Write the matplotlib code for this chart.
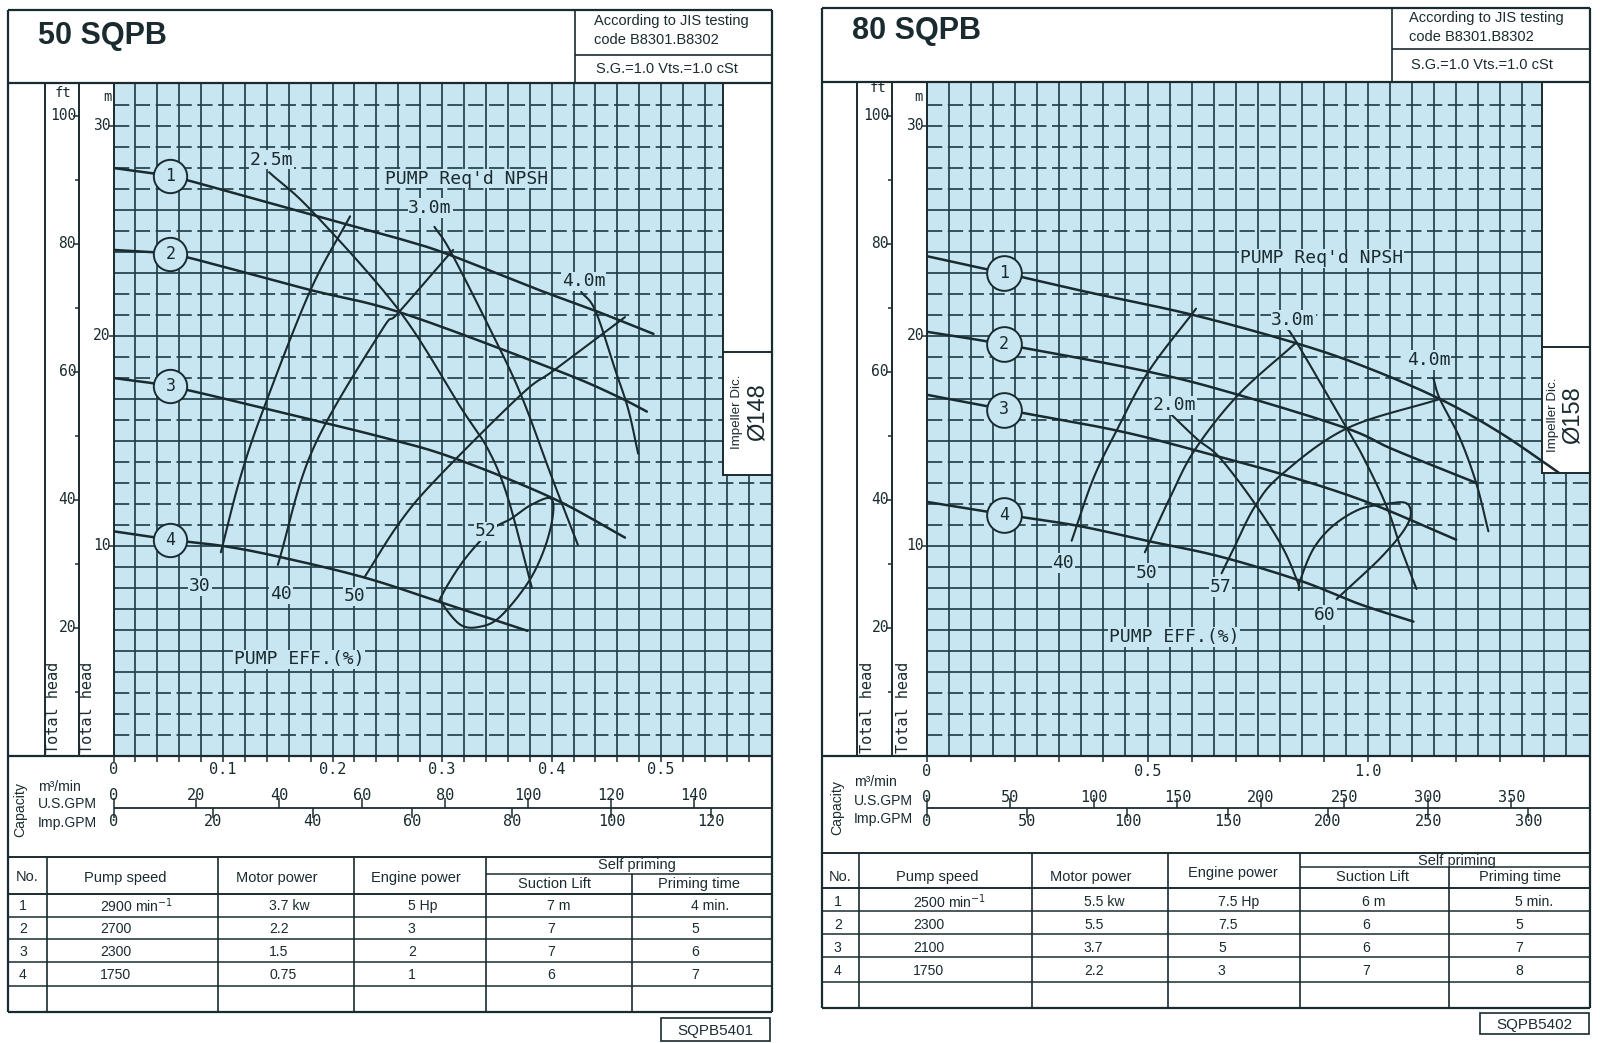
import numpy as np
import matplotlib
matplotlib.use("Agg")
import matplotlib.pyplot as plt
from matplotlib import font_manager
from matplotlib.patches import Rectangle

# ------------------------------------------------------------------ DATA
# ---- 50 SQPB (left sheet): Q in m3/min, H in m
L1_Q = [0.0, 0.052, 0.10, 0.20, 0.263, 0.305, 0.388, 0.44, 0.493]
L1_H = [28.0, 27.6, 26.95, 25.5, 24.6, 23.9, 22.2, 21.2, 20.1]
L2_Q = [0.0, 0.052, 0.10, 0.179, 0.263, 0.403, 0.457, 0.487]
L2_H = [24.1, 23.9, 23.3, 22.2, 21.1, 18.4, 17.2, 16.4]
L3_Q = [0.0, 0.052, 0.134, 0.244, 0.31, 0.40, 0.467]
L3_H = [18.0, 17.6, 16.6, 15.2, 14.2, 12.3, 10.4]
L4_Q = [0.0, 0.052, 0.10, 0.15, 0.229, 0.30, 0.378]
L4_H = [10.7, 10.3, 10.0, 9.5, 8.5, 7.3, 5.96]

L_E30_Q = [0.098, 0.116, 0.1375, 0.18, 0.216]
L_E30_H = [9.7, 13.3, 16.6, 22.2, 25.7]
L_E40_Q = [0.15, 0.182, 0.244, 0.26, 0.31]
L_E40_H = [9.1, 14.6, 20.2, 21.1, 24.1]
L_E50_Q = [0.229, 0.261, 0.295, 0.372, 0.403, 0.467]
L_E50_H = [8.5, 11.1, 13.2, 17.2, 18.4, 20.9]
L_E52_Q = [0.300, 0.32, 0.345, 0.363, 0.381, 0.399, 0.401, 0.393, 0.378, 0.353, 0.335, 0.317, 0.300]
L_E52_H = [7.67, 9.33, 10.76, 11.3, 11.95, 12.27, 11.4, 9.81, 8.22, 6.63, 6.16, 6.24, 7.27]

L_N25_Q = [0.142, 0.182, 0.261, 0.317, 0.342, 0.36, 0.382]
L_N25_H = [27.8, 25.9, 21.2, 16.6, 14.6, 12.3, 8.0]
L_N30_Q = [0.293, 0.308, 0.345, 0.372, 0.40, 0.424]
L_N30_H = [25.2, 24.0, 20.2, 17.2, 13.3, 10.05]
L_N40_Q = [0.427, 0.44, 0.458, 0.47, 0.479]
L_N40_H = [22.1, 21.2, 18.4, 16.5, 14.4]

L_XTICKS = [0, 0.1, 0.2, 0.3, 0.4, 0.5]
L_XTICKLABELS = ["0", "0.1", "0.2", "0.3", "0.4", "0.5"]
L_USGPM = [0, 20, 40, 60, 80, 100, 120, 140]
L_IMPGPM = [0, 20, 40, 60, 80, 100, 120]

L_SPEED = ["2900", "2700", "2300", "1750"]
L_MOTOR = ["3.7", "2.2", "1.5", "0.75"]
L_ENGINE = ["5", "3", "2", "1"]
L_SUCTION = ["7", "7", "7", "6"]
L_PRIMING = ["4", "5", "6", "7"]

# ---- 80 SQPB (right sheet)
R1_Q = [0.0, 0.175, 0.362, 0.604, 0.846, 0.997, 1.163, 1.299, 1.432]
R1_H = [23.8, 23.0, 22.1, 21.0, 19.6, 18.5, 17.0, 15.4, 13.5]
R2_Q = [0.0, 0.175, 0.502, 0.706, 0.952, 1.057, 1.246]
R2_H = [20.2, 19.6, 18.3, 17.2, 15.6, 14.6, 13.0]
R3_Q = [0.0, 0.175, 0.43, 0.619, 0.808, 0.997, 1.2]
R3_H = [17.2, 16.5, 15.5, 14.5, 13.4, 12.1, 10.3]
R4_Q = [0.0, 0.175, 0.34, 0.498, 0.664, 0.846, 0.98, 1.103]
R4_H = [12.1, 11.5, 10.97, 10.25, 9.5, 8.35, 7.24, 6.4]

R_E40_Q = [0.328, 0.377, 0.43, 0.502, 0.61]
R_E40_H = [10.25, 13.2, 15.5, 18.3, 21.3]
R_E50_Q = [0.494, 0.551, 0.608, 0.706, 0.838]
R_E50_H = [9.7, 12.3, 14.6, 17.2, 19.7]
R_E57_Q = [0.668, 0.695, 0.744, 0.804, 0.952, 1.163]
R_E57_H = [8.7, 9.86, 11.9, 13.4, 15.6, 17.0]
R_E60_Q = [0.843, 0.846, 0.876, 0.921, 0.982, 1.042, 1.08, 1.095, 1.095, 1.073, 1.027, 0.974, 0.929]
R_E60_H = [7.9, 8.35, 9.86, 10.97, 11.76, 12.0, 12.08, 11.84, 11.29, 10.5, 9.4, 8.35, 7.48]

R_N20_Q = [0.547, 0.612, 0.664, 0.744, 0.808, 0.846]
R_N20_H = [16.4, 15.1, 14.2, 12.0, 9.86, 8.0]
R_N30_Q = [0.814, 0.838, 0.952, 0.99, 1.042, 1.073, 1.11]
R_N30_H = [20.4, 19.7, 15.6, 14.2, 11.9, 10.0, 7.95]
R_N40_Q = [1.148, 1.163, 1.209, 1.246, 1.273]
R_N40_H = [18.0, 17.0, 15.1, 12.95, 10.7]

R_XTICKS = [0, 0.5, 1.0]
R_XTICKLABELS = ["0", "0.5", "1.0"]
R_USGPM = [0, 50, 100, 150, 200, 250, 300, 350]
R_IMPGPM = [0, 50, 100, 150, 200, 250, 300]

R_SPEED = ["2500", "2300", "2100", "1750"]
R_MOTOR = ["5.5", "5.5", "3.7", "2.2"]
R_ENGINE = ["7.5", "7.5", "5", "3"]
R_SUCTION = ["6", "6", "6", "7"]
R_PRIMING = ["5", "5", "7", "8"]

FT_TICKS = [10, 20, 30, 40, 50, 60, 70, 80, 90, 100]
M_TICKS = [10, 20, 30]
US_GAL_M3 = 0.003785411784
IMP_GAL_M3 = 0.00454609

# ------------------------------------------------------------------ STYLE
plt.rcParams['lines.scale_dashes'] = False
plt.rcParams['mathtext.fontset'] = 'dejavusans'


def has_font(name):
    try:
        font_manager.findfont(font_manager.FontProperties(family=name),
                              fallback_to_default=False)
        return True
    except Exception:
        return False


if has_font('Liberation Sans Narrow'):
    NARROW, NS = 'Liberation Sans Narrow', 1.0
else:
    NARROW, NS = 'Liberation Sans', 0.84
SANS = 'Liberation Sans'
MONO = 'DejaVu Sans Mono'

BG = '#c8e6f2'
GRID = '#21414a'
INK = '#1a2b30'
DASHED_H = {31, 30, 29, 28, 27, 25, 22, 21, 19, 18, 16, 14, 13, 12, 11, 3, 2, 1}
PXM = 21.0     # pixels per metre of head


def crspline(xs, ys, n=24, closed=False):
    P = np.column_stack([xs, ys]).astype(float)
    if closed:
        P = np.vstack([P, P[:1]])
        ext = np.vstack([P[-2:-1], P, P[1:2]])
    else:
        ext = np.vstack([2 * P[0] - P[1], P, 2 * P[-1] - P[-2]])
    t = np.linspace(0, 1, n, endpoint=False)[:, None]
    segs = []
    for i in range(1, len(ext) - 2):
        p0, p1, p2, p3 = ext[i - 1], ext[i], ext[i + 1], ext[i + 2]
        segs.append(0.5 * (2 * p1 + (p2 - p0) * t + (2 * p0 - 5 * p1 + 4 * p2 - p3) * t ** 2
                           + (3 * p1 - p0 - 3 * p2 + p3) * t ** 3))
    segs.append(P[-1:])
    S = np.vstack(segs)
    return S[:, 0], S[:, 1]


fig = plt.figure(figsize=(16, 10.43), dpi=100)
W, HH = 1600, 1043
ov = fig.add_axes([0, 0, 1, 1], zorder=3)
ov.set_xlim(0, W)
ov.set_ylim(HH, 0)
ov.axis('off')


def seg(x0, y0, x1, y1, lw=1.4):
    ov.plot([x0, x1], [y0, y1], color=INK, lw=lw, solid_capstyle='butt')


def otext(x, y, s, size, family=NARROW, ha='left', va='center', **kw):
    ov.text(x, y, s, fontsize=size, family=family, ha=ha, va=va, color=INK, **kw)


PANELS = [
    dict(title='50 SQPB', code='SQPB5401', dia='\u00d8148',
         fx0=8, fy0=10, fx1=772, fy1=1012, hy=83, subx=575, suby=55,
         title_xy=(38, 36), jis_xy=(594, 21, 40, 69),
         sepx=45, ftx=79, gx0=113.5, gy1=756, xppu=1095.3, xstep=0.02, ngrid=29,
         box_x=723, box_y=475, box_div=352, imp_x=(737, 758), imp_y=412,
         ft_xy=(63, 93), m_xy=(107, 97), th_x=(53, 88),
         xtl_y=770, gpm_y=808, us_y=796, imp_yl=822, tick_every=1,
         cap=(20, 810), cap_lbl=(38, 787, 804, 823),
         curves=[(L1_Q, L1_H), (L2_Q, L2_H), (L3_Q, L3_H), (L4_Q, L4_H)], circ_q=0.052, circ_ms=24,
         eff=[(L_E30_Q, L_E30_H, False), (L_E40_Q, L_E40_H, False), (L_E50_Q, L_E50_H, False),
              (L_E52_Q, L_E52_H, True)],
         npsh=[(L_N25_Q, L_N25_H), (L_N30_Q, L_N30_H), (L_N40_Q, L_N40_H)],
         labels=[("2.5m", 0.144, 28.4, 'center'), ("PUMP Req'd NPSH", 0.248, 27.5, 'left'),
                 ("3.0m", 0.289, 26.1, 'center'), ("4.0m", 0.429, 22.6, 'center'),
                 ("PUMP EFF.(%)", 0.110, 4.6, 'left'), ("30", 0.079, 8.1, 'center'),
                 ("40", 0.153, 7.7, 'center'), ("50", 0.22, 7.6, 'center'),
                 ("52", 0.34, 10.7, 'center')],
         xticks=L_XTICKS, xticklabels=L_XTICKLABELS, usgpm=L_USGPM, impgpm=L_IMPGPM,
         tbl=dict(top=857, spdiv=874, hbot=894, rows=[917, 939, 962, 986], bot=1012,
                  cols=[47, 218, 354, 486], spcol=632,
                  hdr=[("No.", 16, 877, 'left'), ("Pump speed", 125, 878, 'center'),
                       ("Motor power", 277, 878, 'center'), ("Engine power", 416, 878, 'center'),
                       ("Self priming", 637, 865, 'center'), ("Suction Lift", 554, 884, 'center'),
                       ("Priming time", 699, 884, 'center')],
                  rowy=[906, 929, 952, 975], colx=[19, 100, 269, 408, 547, 691]),
         vals=[L_SPEED, L_MOTOR, L_ENGINE, L_SUCTION, L_PRIMING],
         units=[" min$^{-1}$", " kw", " Hp", " m", " min."],
         codebox=(661, 1018, 770, 1041)),
    dict(title='80 SQPB', code='SQPB5402', dia='\u00d8158',
         fx0=822, fy0=8, fx1=1590, fy1=1008, hy=82, subx=1392, suby=49,
         title_xy=(852, 31), jis_xy=(1409, 18, 37, 65),
         sepx=857, ftx=892, gx0=927, gy1=756, xppu=441.0, xstep=0.05, ngrid=29,
         box_x=1542, box_y=473, box_div=347, imp_x=(1553, 1573), imp_y=415,
         ft_xy=(878, 88), m_xy=(918, 97), th_x=(867, 903),
         xtl_y=772, gpm_y=808, us_y=797, imp_yl=821, tick_every=2,
         cap=(837, 808), cap_lbl=(854, 782, 801, 819),
         curves=[(R1_Q, R1_H), (R2_Q, R2_H), (R3_Q, R3_H), (R4_Q, R4_H)], circ_q=0.175, circ_ms=25,
         eff=[(R_E40_Q, R_E40_H, False), (R_E50_Q, R_E50_H, False), (R_E57_Q, R_E57_H, False),
              (R_E60_Q, R_E60_H, False)],
         npsh=[(R_N20_Q, R_N20_H), (R_N30_Q, R_N30_H), (R_N40_Q, R_N40_H)],
         labels=[("2.0m", 0.562, 16.7, 'center'), ("PUMP Req'd NPSH", 0.71, 23.7, 'left'),
                 ("3.0m", 0.83, 20.76, 'center'), ("4.0m", 1.138, 18.86, 'center'),
                 ("PUMP EFF.(%)", 0.413, 5.67, 'left'), ("40", 0.309, 9.19, 'center'),
                 ("50", 0.497, 8.71, 'center'), ("57", 0.665, 8.05, 'center'),
                 ("60", 0.903, 6.71, 'center')],
         xticks=R_XTICKS, xticklabels=R_XTICKLABELS, usgpm=R_USGPM, impgpm=R_IMPGPM,
         tbl=dict(top=853, spdiv=867, hbot=888, rows=[911, 934, 957, 982], bot=1008,
                  cols=[859, 1032, 1168, 1300], spcol=1449,
                  hdr=[("No.", 829, 877, 'left'), ("Pump speed", 937, 877, 'center'),
                       ("Motor power", 1091, 877, 'center'), ("Engine power", 1233, 873, 'center'),
                       ("Self priming", 1457, 861, 'center'), ("Suction Lift", 1373, 877, 'center'),
                       ("Priming time", 1520, 877, 'center')],
                  rowy=[902, 925, 948, 971], colx=[834, 913, 1084, 1218, 1362, 1515]),
         vals=[R_SPEED, R_MOTOR, R_ENGINE, R_SUCTION, R_PRIMING],
         units=[" min$^{-1}$", " kw", " Hp", " m", " min."],
         codebox=(1480, 1013, 1589, 1034)),
]


def draw_panel(p):
    gx0, gx1, gy0, gy1 = p['gx0'], p['fx1'], p['hy'], p['gy1']
    xppu = p['xppu']
    ax = fig.add_axes([gx0 / W, 1 - gy1 / HH, (gx1 - gx0) / W, (gy1 - gy0) / HH], zorder=1)
    ax.set_xlim(0, (gx1 - gx0) / xppu)
    ax.set_ylim(0, (gy1 - gy0) / PXM)
    ax.set_facecolor(BG)
    for s in ax.spines.values():
        s.set_visible(False)
    ax.set_xticks([])
    ax.set_yticks([])

    def qx(q):
        return gx0 + xppu * q

    def hy(h):
        return gy1 - PXM * h

    # grid
    for i in range(1, p['ngrid'] + 1):
        ax.axvline(i * p['xstep'], color=GRID, lw=1.25, zorder=1)
    for h in range(1, 32):
        if h in DASHED_H:
            ax.axhline(h, color=GRID, lw=1.25, ls=(0, (11, 4)), zorder=1)
        else:
            ax.axhline(h, color=GRID, lw=1.25, zorder=1)

    # impeller box
    bq = (p['box_x'] - gx0) / xppu
    hb = (gy1 - p['box_y']) / PXM
    top = (gy1 - gy0) / PXM
    ax.add_patch(Rectangle((bq, hb), 5, top - hb + 1, facecolor='white',
                           edgecolor=INK, lw=1.4, zorder=2))
    ax.plot([bq, 5], [(gy1 - p['box_div']) / PXM] * 2, color=INK, lw=1.4, zorder=2)

    # head curves with numbered circles
    for k, (q, h) in enumerate(p['curves']):
        xs, ys = crspline(q, h)
        ax.plot(xs, ys, color=INK, lw=1.8, zorder=3, solid_capstyle='round')
        hc = float(np.interp(p['circ_q'], q, h))
        ax.plot([p['circ_q']], [hc], 'o', ms=p['circ_ms'], mfc=BG, mec=INK, mew=1.4, zorder=4)
        ax.text(p['circ_q'], hc, str(k + 1), family=MONO, fontsize=12, ha='center',
                va='center', color=INK, zorder=5)
    for q, h, closed in p['eff']:
        xs, ys = crspline(q, h, closed=closed)
        ax.plot(xs, ys, color=INK, lw=1.5, zorder=3, solid_capstyle='round')
    for q, h in p['npsh']:
        xs, ys = crspline(q, h)
        ax.plot(xs, ys, color=INK, lw=1.5, zorder=3, solid_capstyle='round')
    for s, q, h, ha in p['labels']:
        ax.text(q, h, s, family=MONO, fontsize=13, ha=ha, va='center', color=INK, zorder=4,
                bbox=dict(facecolor=BG, edgecolor='none', pad=0.5))

    # ---------------- overlay frame
    fx0, fy0, fx1, fy1 = p['fx0'], p['fy0'], p['fx1'], p['fy1']
    seg(fx0, fy0, fx1, fy0, 1.6)
    seg(fx0, fy1, fx1, fy1, 1.6)
    seg(fx0, fy0, fx0, fy1, 1.6)
    seg(fx1, fy0, fx1, fy1, 1.6)
    seg(fx0, gy0, fx1, gy0, 1.6)
    seg(p['subx'], fy0, p['subx'], gy0, 1.2)
    seg(p['subx'], p['suby'], fx1, p['suby'], 1.2)
    for x in (p['sepx'], p['ftx'], gx0):
        seg(x, gy0, x, gy1, 1.4)
    seg(fx0, gy1, fx1, gy1, 1.6)

    # header text
    tx, ty = p['title_xy']
    ov.text(tx, ty, p['title'], fontsize=22, family=SANS, weight='bold', ha='left', va='center',
            color=INK)
    jx, j1, j2, j3 = p['jis_xy']
    otext(jx, j1, "According to JIS testing", 12.5 * NS)
    otext(jx, j2, "code B8301.B8302", 12.5 * NS)
    otext(jx + 2, j3, "S.G.=1.0 Vts.=1.0 cSt", 12.5 * NS)

    # impeller text
    ix1, ix2 = p['imp_x']
    otext(ix1, p['imp_y'], "Impeller Dic.", 11.5 * NS, ha='center', rotation=90)
    otext(ix2, p['imp_y'], p['dia'], 17, family=SANS, ha='center', rotation=90)

    # ft & m axes
    otext(p['ft_xy'][0], p['ft_xy'][1], "ft", 10, family=MONO, ha='center')
    otext(p['m_xy'][0], p['m_xy'][1], "m", 10, family=MONO, ha='center')
    for ft in FT_TICKS:
        y = hy(ft * 0.3048)
        L = 6 if ft % 20 == 0 else 4
        seg(p['ftx'] - L, y, p['ftx'], y, 1.1)
        if ft % 20 == 0:
            otext(p['ftx'] - 3, y, str(ft), 10.5, family=MONO, ha='right')
    for m in M_TICKS:
        y = hy(m)
        seg(gx0 - 5, y, gx0, y, 1.1)
        otext(gx0 - 3, y, str(m), 10.5, family=MONO, ha='right')
    for x in p['th_x']:
        otext(x, 753, "Total head", 11, family=MONO, ha='center', va='bottom', rotation=90)

    # x ticks below grid
    i = 0
    while i * p['xstep'] <= p['ngrid'] * p['xstep'] + 1e-9:
        if i % p['tick_every'] == 0:
            x = qx(i * p['xstep'])
            seg(x, gy1, x, gy1 + 6, 1.1)
        i += 1
    for q, s in zip(p['xticks'], p['xticklabels']):
        otext(qx(q), p['xtl_y'], s, 11, family=MONO, ha='center')

    # capacity scales
    gy = p['gpm_y']
    seg(gx0, gy, fx1, gy, 1.3)
    for g in p['usgpm']:
        x = qx(g * US_GAL_M3)
        seg(x, gy, x, gy - 10, 1.1)
        otext(x, p['us_y'], str(g), 11, family=MONO, ha='center')
    for g in p['impgpm']:
        x = qx(g * IMP_GAL_M3)
        seg(x, gy, x, gy + 10, 1.1)
        otext(x, p['imp_yl'], str(g), 11, family=MONO, ha='center')
    cx, cy = p['cap']
    otext(cx, cy, "Capacity", 12 * NS, ha='center', rotation=90)
    lx, l1, l2, l3 = p['cap_lbl']
    otext(lx, l1, "m\u00b3/min", 12 * NS)
    otext(lx, l2, "U.S.GPM", 12 * NS)
    otext(lx, l3, "Imp.GPM", 12 * NS)

    # table
    t = p['tbl']
    seg(fx0, t['top'], fx1, t['top'], 1.4)
    seg(t['cols'][3], t['spdiv'], fx1, t['spdiv'], 1.1)
    seg(fx0, t['hbot'], fx1, t['hbot'], 1.4)
    for y in t['rows']:
        seg(fx0, y, fx1, y, 1.1)
    for x in t['cols']:
        seg(x, t['top'], x, t['bot'], 1.2)
    seg(t['spcol'], t['spdiv'], t['spcol'], t['bot'], 1.2)
    for s, x, y, ha in t['hdr']:
        otext(x, y, s, 12.5 * NS, ha=ha)
    for r, y in enumerate(t['rowy']):
        otext(t['colx'][0], y, str(r + 1), 12 * NS)
        for c, col in enumerate(p['vals']):
            s = col[r] + (p['units'][c] if r == 0 else "")
            otext(t['colx'][c + 1], y, s, 12 * NS)

    bx0, by0, bx1, by1 = p['codebox']
    ov.add_patch(Rectangle((bx0, by0), bx1 - bx0, by1 - by0, facecolor='white', edgecolor=INK,
                           lw=1.2))
    otext((bx0 + bx1) / 2, (by0 + by1) / 2 + 1, p['code'], 13 * NS, ha='center')


for p in PANELS:
    draw_panel(p)

fig.savefig("out.png", dpi=100, facecolor='white')
